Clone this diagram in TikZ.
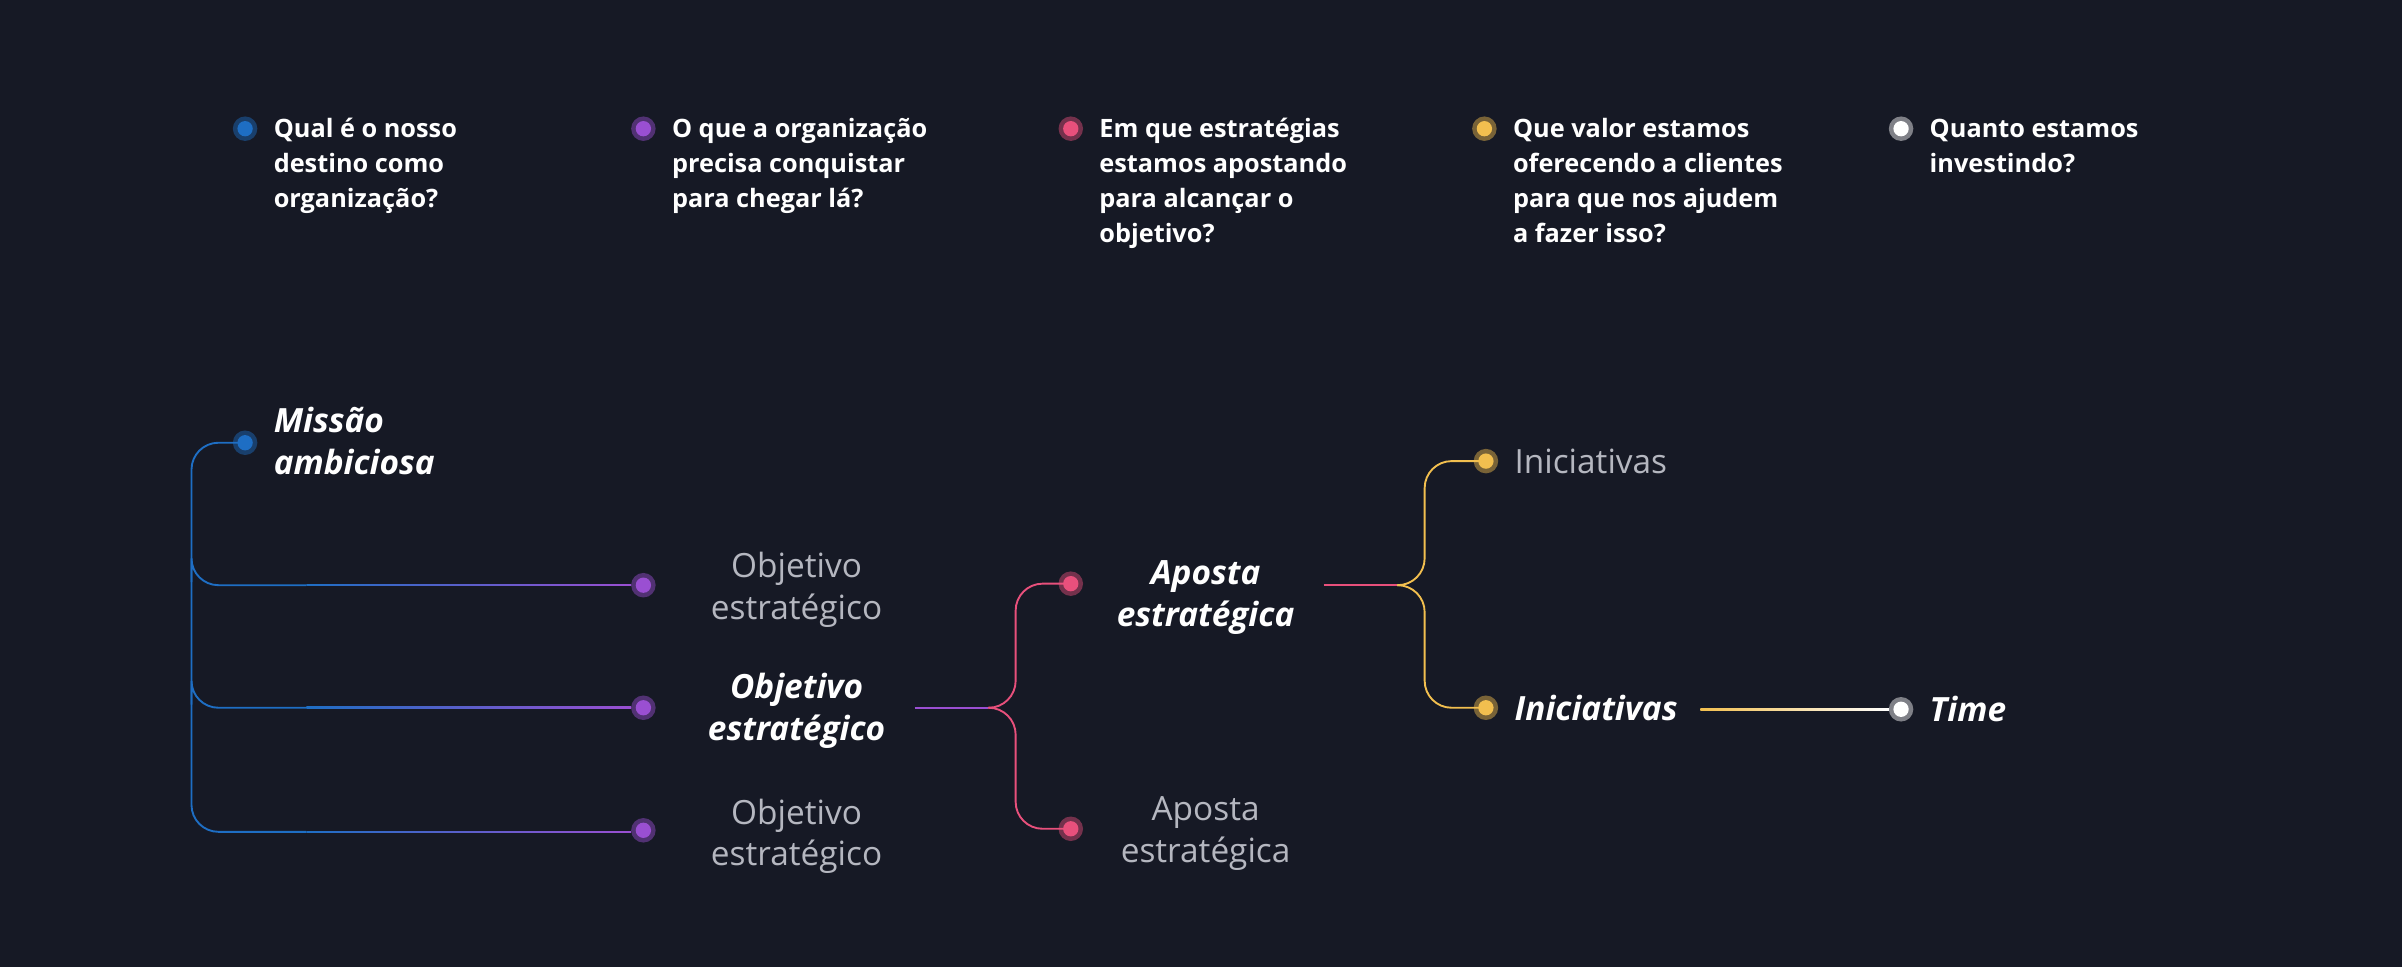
\documentclass[tikz,border=0pt]{standalone}
\usepackage{fontspec}
\setmainfont{Open Sans}
\begin{document}
\begin{tikzpicture}[x=0.1mm,y=-0.1mm]
\definecolor{bg}{HTML}{161925}
\definecolor{cb}{HTML}{1E6EC4}
\definecolor{cp}{HTML}{9A4FD2}
\definecolor{ck}{HTML}{E8507C}
\definecolor{cy}{HTML}{F2BF4F}
\definecolor{cw}{HTML}{FFFFFF}
\definecolor{gt}{HTML}{B5B7C0}
\fill[bg] (0,0) rectangle (1568,631);
\useasboundingbox (0,0) rectangle (1568,631);
\tikzset{
 hdr/.style={anchor=north west,inner sep=0,align=left,text=white,font=\fontsize{4.7pt}{6.5pt}\selectfont\bfseries},
 big/.style={inner sep=0,align=center,text=white,font=\fontsize{6.2pt}{7.7pt}\selectfont\bfseries\itshape},
 grey/.style={inner sep=0,align=center,text=gt,font=\fontsize{6.2pt}{7.7pt}\selectfont},
 ln/.style={line width=0.35pt,rounded corners=5pt}
}
\newcommand\mydot[3]{%
 \fill[#2,opacity=0.45] (#1) circle (8);
 \fill[#2] (#1) circle (5);
 \coordinate (#3) at (#1);}
% header
\foreach \x/\c/\t [count=\i] in {160/cb/{Qual é o nosso\\destino como\\organização?},420/cp/{O que a organização\\precisa conquistar\\para chegar lá?},699/ck/{Em que estratégias\\estamos apostando\\para alcançar o\\objetivo?},969/cy/{Que valor estamos\\oferecendo a clientes\\para que nos ajudem\\a fazer isso?},1241/cw/{Quanto estamos\\investindo?}}{
 \mydot{\x,84}{\c}{h\i}
 \node[hdr] (ht\i) at (\x+18,73) {\strut\t};
}
% tree dots
\mydot{160,289}{cb}{m}
\mydot{420,382}{cp}{o1}
\mydot{420,462}{cp}{o2}
\mydot{420,542}{cp}{o3}
\mydot{699,381}{ck}{a1}
\mydot{699,541}{ck}{a2}
\mydot{970,301}{cy}{i1}
\mydot{970,462}{cy}{i2}
\mydot{1241,463}{cw}{t}
% labels
\node[big,anchor=north west,align=left] (lm) at (178,263) {\strut Missão\\ambiciosa};
\node[grey] (lo1) at (520,385) {Objetivo\\estratégico};
\node[big] (lo2) at (520,464) {Objetivo\\estratégico};
\node[grey] (lo3) at (520,546) {Objetivo\\estratégico};
\node[big] (la1) at (787,390) {Aposta\\estratégica};
\node[grey] (la2) at (787,544) {Aposta\\estratégica};
\node[grey,anchor=west] (li1) at (988,301) {Iniciativas};
\node[big,anchor=west] (li2) at (988,462) {Iniciativas};
\node[big,anchor=west] (lt) at (1259,463) {Time};
% connectors
\draw[ln,cb] (m) -- (125,289) -- (125,543) -- (200,543);
\draw[ln,cb] (125,380) |- (200,382);
\draw[ln,cb] (125,460) |- (200,462);
\shade[left color=cb,right color=cp] (200,381.5) rectangle (412,382.5);
\shade[left color=cb,right color=cp] (200,461.5) rectangle (412,462.5);
\shade[left color=cb,right color=cp] (200,542.5) rectangle (412,543.5);
\draw[ln,cp] (597,462) -- (645,462);
\draw[ln,ck] (645,462) -| (663,420) |- (a1);
\draw[ln,ck] (645,462) -| (663,500) |- (a2);
\draw[ln,ck] (864,382) -- (912,382);
\draw[ln,cy] (912,382) -| (930,340) |- (i1);
\draw[ln,cy] (912,382) -| (930,420) |- (i2);
\shade[left color=cy,right color=white] (1110,462.5) rectangle (1233,463.5);
\end{tikzpicture}
\end{document}
